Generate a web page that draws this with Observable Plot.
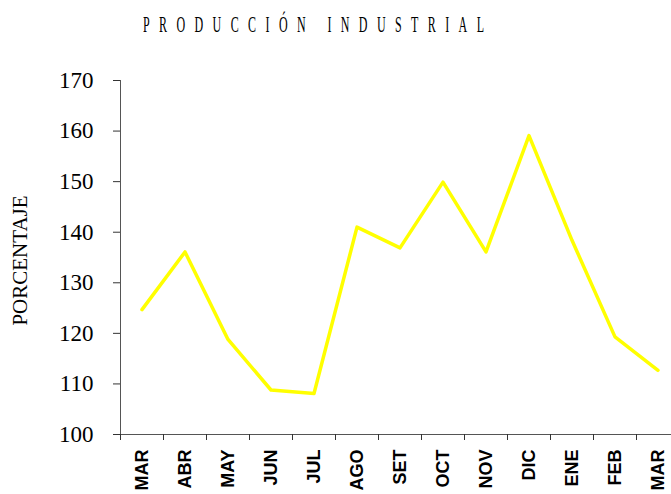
<!DOCTYPE html>
<html><head><meta charset="utf-8">
<script src="https://cdn.jsdelivr.net/npm/d3@7"></script>
<script src="https://cdn.jsdelivr.net/npm/@observablehq/plot@0.6"></script>
<style>
body{margin:0;background:#fff;width:671px;height:494px;overflow:hidden}
#title{height:44px;box-sizing:border-box;padding:12px 0 0 143px;}
#title span{display:inline-block;font:24px "Liberation Serif",serif;letter-spacing:18.8px;line-height:1;white-space:pre;color:#000;transform:scaleX(0.5);transform-origin:0 0}
</style></head><body>
<div id="title"><span></span></div>
<div id="chart"></div>
<script>
const titleText = "PRODUCCIÓN INDUSTRIAL";
const yLabel = "PORCENTAJE";
const months = ["MAR","ABR","MAY","JUN","JUL","AGO","SET","OCT","NOV","DIC","ENE","FEB","MAR"];
const values = [124.7,136.1,118.8,108.8,108.1,141.0,136.9,149.9,136.1,159.1,138.4,119.3,112.7];
const yTicks = [100,110,120,130,140,150,160,170];

document.querySelector("#title span").textContent = titleText;

const data = months.map((m, i) => ({i, m, v: values[i]}));
const plot = Plot.plot({
  width: 671, height: 450,
  marginLeft: 120, marginRight: 0, marginTop: 36, marginBottom: 60,
  style: {background: "#fff", color: "#000", overflow: "visible"},
  x: {domain: [-0.5, months.length - 0.5], range: [120, 679], axis: null},
  y: {domain: [100, 170], axis: null},
  marks: [
    Plot.axisY({ticks: yTicks, tickSize: 7, tickPadding: 20, fontSize: 23, fontFamily: "Liberation Serif", stroke: "#333", label: null}),
    Plot.frame({anchor: "left", stroke: "#555"}),
    Plot.frame({anchor: "bottom", stroke: "#555"}),
    Plot.axisX({ticks: months.map((_, i) => i - 0.5), tickSize: 6, tickFormat: () => "", stroke: "#333", label: null}),
    Plot.axisX({ticks: months.map((_, i) => i), tickSize: 0, tickPadding: 15, tickRotate: -90, tickFormat: i => months[i], fontSize: 18, fontWeight: "bold", fontFamily: "Liberation Sans", label: null}),
    Plot.line(data, {x: "i", y: "v", stroke: "#FFFF00", strokeWidth: 3.5}),
    Plot.text([yLabel], {frameAnchor: "left", rotate: -90, dx: -100, dy: 3, textAnchor: "middle", lineAnchor: "middle", fontSize: 21, fontFamily: "Liberation Serif"})
  ]
});
document.getElementById("chart").appendChild(plot);
</script>
</body></html>
